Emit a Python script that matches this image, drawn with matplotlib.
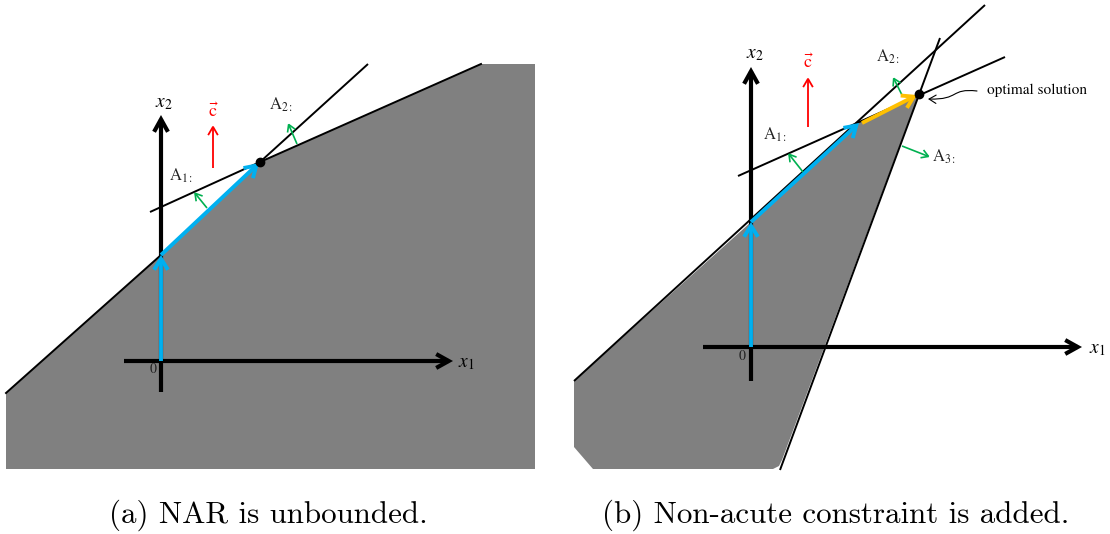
import matplotlib.pyplot as plt
from matplotlib.patches import Polygon, FancyArrowPatch
from matplotlib.path import Path

plt.rcParams['mathtext.fontset'] = 'stix'

# figure size in pixels (dpi 100); both panels use 1 unit = 10 px, origin at the axes cross
W, H = 1110, 534

GRAY = '#808080'
BLUE = '#00B0F0'
GREEN = '#00B050'
ORANGE = '#FFC000'
RED = '#FF0000'

# ---- panel (a): NAR unbounded ----
a_region = [(-15.5, -3.2), (0, 10.6), (9.9, 19.9), (32.0, 29.7), (37.4, 29.7),
            (37.4, -10.8), (-15.5, -10.8)]
a_boundary = [(-15.5, -3.2), (0, 10.6), (9.9, 19.9), (32.0, 29.7)]
a_lines = [[(-1.1, 14.9), (9.9, 19.9)],      # A1 row
           [(9.9, 19.9), (20.7, 29.7)]]      # A2 row
a_vertex = (9.9, 19.9)
a_path = [(0, 0), (0, 10.6), (9.8, 19.8)]
a_xaxis = [(-3.7, 0), (29.2, 0)]
a_yaxis = [(0, -3.1), (0, 24.6)]
a_normals = [[(4.6, 15.3), (3.3, 16.9)], [(13.6, 21.7), (12.7, 23.8)]]
a_normal_labels = [(r'$\mathrm{A}_{1:}$', (2.0, 18.5)), (r'$\mathrm{A}_{2:}$', (12.0, 25.6))]
a_cost = [(5.2, 19.3), (5.2, 23.6)]
a_cost_label = (5.2, 24.9)
a_x1_label = (30.5, -0.2)
a_x2_label = (0.3, 25.9)
a_zero = (-0.8, -0.8)

# ---- panel (b): non-acute constraint added ----
b_region = [(-17.7, -3.4), (0, 12.5), (10.9, 22.5), (16.8, 25.3), (3.1, -11.3),
            (2.8, -11.9), (2.2, -12.2), (-15.8, -12.2), (-17.7, -10.0)]
b_lines = [[(-17.7, -3.4), (23.4, 34.2)],    # A2 row
           [(-1.3, 17.1), (25.4, 29.0)],     # A1 row
           [(18.9, 30.9), (2.9, -12.3)]]     # A3 row
b_vertex = (16.8, 25.3)
b_path = [(0, 0), (0, 12.5), (10.8, 22.4)]
b_step = [(11.1, 22.4), (16.6, 25.2)]
b_xaxis = [(-4.8, 0), (33.1, 0)]
b_yaxis = [(0, -3.4), (0, 28.0)]
b_normals = [[(5.2, 17.5), (3.7, 19.4)], [(15.1, 25.2), (14.2, 27.0)],
             [(15.1, 20.1), (17.9, 19.0)]]
b_normal_labels = [(r'$\mathrm{A}_{1:}$', (2.4, 21.2)), (r'$\mathrm{A}_{2:}$', (13.7, 29.0)),
                   (r'$\mathrm{A}_{3:}$', (19.3, 19.0))]
b_cost = [(5.7, 22.0), (5.7, 27.0)]
b_cost_label = (5.7, 28.4)
b_x1_label = (34.6, -0.2)
b_x2_label = (0.4, 29.4)
b_zero = (-0.9, -0.9)
b_note = 'optimal solution'
b_note_pos = (23.6, 25.7)
b_note_curve = [(22.6, 25.6), (19.9, 25.9), (20.9, 24.7), (17.7, 24.8)]

captions = ['(a) NAR is unbounded.', '(b) Non-acute constraint is added.']


def arrow(ax, p, q, color, lw, hl, hw, ms=10, z=3):
    ax.add_patch(FancyArrowPatch(p, q, arrowstyle=f'->,head_length={hl},head_width={hw}',
                                 color=color, lw=lw, mutation_scale=ms,
                                 shrinkA=0, shrinkB=0, capstyle='butt',
                                 joinstyle='miter', zorder=z))


def make_axes(fig, px_left, px_width, origin):
    # axes covering a pixel strip from the top of the figure down to y=480
    ax = fig.add_axes([px_left / W, (H - 480) / H, px_width / W, 480 / H])
    ox, oy = origin
    ax.set_xlim((px_left - ox) / 10, (px_left + px_width - ox) / 10)
    ax.set_ylim((oy - 480) / 10, oy / 10)
    ax.axis('off')
    return ax


def draw_common(ax, region, lines, vertex, path, xaxis, yaxis, normals, labels,
                cost, cost_label, x1_label, x2_label, zero):
    ax.add_patch(Polygon(region, closed=True, facecolor=GRAY, edgecolor='none', zorder=1))
    for seg in lines:
        xs, ys = zip(*seg)
        ax.plot(xs, ys, color='black', lw=1.4, zorder=2, solid_capstyle='butt')

    # axes of the x1-x2 plane
    arrow(ax, xaxis[0], xaxis[1], 'black', 3.0, 0.9, 0.5, z=4)
    arrow(ax, yaxis[0], yaxis[1], 'black', 3.0, 0.9, 0.5, z=4)
    ax.text(*x1_label, r'$x_1$', fontsize=14, ha='center', va='center')
    ax.text(*x2_label, r'$x_2$', fontsize=14, ha='center', va='center')
    ax.text(*zero, '0', fontsize=10, family='STIXGeneral', color='#222222',
            ha='center', va='center')

    # simplex path along the edges
    for p, q in zip(path[:-1], path[1:]):
        arrow(ax, p, q, BLUE, 2.8, 0.8, 0.5, z=5)

    for (p, q) in normals:
        arrow(ax, p, q, GREEN, 1.2, 0.5, 0.3, z=5)
    for txt, pos in labels:
        ax.text(*pos, txt, fontsize=12, ha='center', va='center', color='#222222')

    arrow(ax, cost[0], cost[1], RED, 1.3, 0.6, 0.35, z=5)
    ax.text(*cost_label, r'$\vec{\mathrm{c}}$', fontsize=13, color=RED,
            ha='center', va='center')

    ax.plot(*vertex, 'o', color='black', ms=6, zorder=6)


fig = plt.figure(figsize=(W / 100, H / 100), dpi=100)

ax_a = make_axes(fig, 0, 555, (161, 361))
draw_common(ax_a, a_region, a_lines, a_vertex, a_path, a_xaxis, a_yaxis, a_normals,
            a_normal_labels, a_cost, a_cost_label, a_x1_label, a_x2_label, a_zero)
xs, ys = zip(*a_boundary)
ax_a.plot(xs, ys, color='black', lw=1.4, zorder=2)

ax_b = make_axes(fig, 555, 555, (751, 347))
draw_common(ax_b, b_region, b_lines, b_vertex, b_path, b_xaxis, b_yaxis, b_normals,
            b_normal_labels, b_cost, b_cost_label, b_x1_label, b_x2_label, b_zero)
arrow(ax_b, b_step[0], b_step[1], ORANGE, 2.8, 0.8, 0.5, z=5)
ax_b.text(*b_note_pos, b_note, fontsize=11, family='STIXGeneral', ha='left', va='center')
curve = Path(b_note_curve, [Path.MOVETO, Path.CURVE4, Path.CURVE4, Path.CURVE4])
ax_b.add_patch(FancyArrowPatch(path=curve, arrowstyle='->,head_length=0.5,head_width=0.3',
                               color='black', lw=0.8, mutation_scale=10, zorder=6))

for cx, txt in zip([268, 836], captions):
    fig.text(cx / W, 1 - 523 / H, txt, family='cmr10', fontsize=22.3,
             ha='center', va='baseline')

fig.savefig('out.png', dpi=100)
